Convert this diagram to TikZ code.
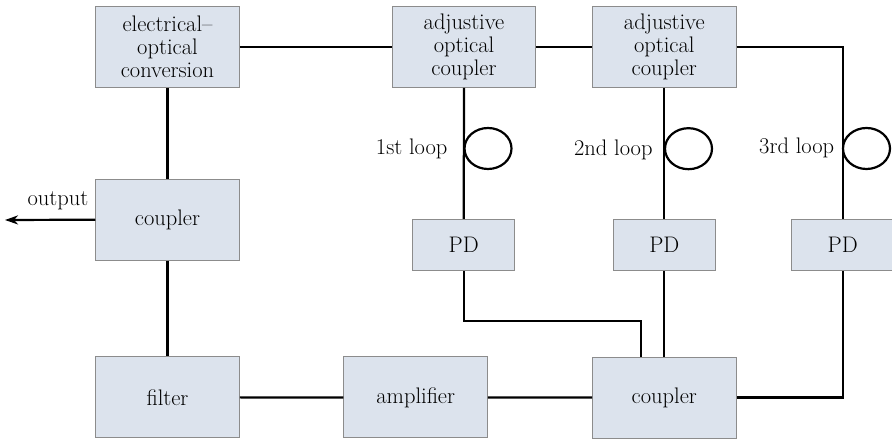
\documentclass[tikz,border=0pt]{standalone}
\usepackage{fontspec}
\usetikzlibrary{arrows.meta,shapes.geometric}
\definecolor{boxfill}{RGB}{220,227,237}
\definecolor{boxline}{RGB}{140,140,140}
\begin{document}
\begin{tikzpicture}[x=1pt,y=-1pt,
  font=\fontsize{22.5}{23.3}\selectfont,
  blk/.style={draw=boxline,fill=boxfill,line width=1pt,inner sep=0pt,align=center,minimum width=143.5pt,minimum height=81pt},
  pdbox/.style={draw=boxline,fill=boxfill,line width=1pt,inner sep=0pt,minimum width=102pt,minimum height=51.4pt},
  conn/.style={line width=2.2pt,draw=black},
  loopring/.style={ellipse,draw=black,line width=2.2pt,minimum width=47pt,minimum height=41pt,inner sep=0pt},
  lbl/.style={inner sep=0pt}]
\useasboundingbox (0,0) rectangle (892,443);
% blocks
\node[blk] (eo) at (167.5,46.8) {electrical–\\optical\\conversion};
\node[blk] (ac1) at (464,46.8) {adjustive\\optical\\coupler};
\node[blk] (ac2) at (664.3,46.8) {adjustive\\optical\\coupler};
\node[blk,minimum height=80.7pt] (cl) at (167.5,219.7) {coupler};
\node[pdbox] (pd1) at (463.7,245) {PD};
\node[pdbox] (pd2) at (664.3,245) {PD};
\node[pdbox] (pd3) at (842.7,245) {PD};
\node[blk] (fil) at (167.5,397.4) {filter};
\node[blk] (amp) at (415.7,397.5) {amplifier};
\node[blk] (cb) at (664.3,397.6) {coupler};
% loops
\node[loopring] (l1) at (488,148.5) {};
\node[loopring] (l2) at (688.5,148.7) {};
\node[loopring] (l3) at (866.5,148.5) {};
\node[lbl] (t1) at (411.7,149) {1st loop};
\node[lbl] (t2) at (613.3,149.5) {2nd loop};
\node[lbl] (t3) at (796.7,148) {3rd loop};
% output
\coordinate (out) at (5,220);
\node[lbl] (to) at (58,201) {output};
% connectors
\draw[conn] (eo.east) -- (ac1.west);
\draw[conn] (ac1.east) -- (ac2.west);
\draw[conn] (ac2.east) -| (pd3.north);
\draw[conn] (eo.south) -- (cl.north);
\draw[conn] (cl.south) -- (fil.north);
\draw[conn,-{Stealth[length=13pt,width=9pt,inset=4pt]}] (cl.west) -- (out);
\draw[conn] (fil.east) -- (amp.west);
\draw[conn] (amp.east) -- (cb.west);
\draw[conn] (ac1.south) -- (pd1.north);
\draw[conn] (ac2.south) -- (pd2.north);
\coordinate (k1) at (640.7,321);
\draw[conn] (pd1.south) |- (k1) -- (k1 |- cb.north);
\draw[conn] (pd2.south) -- (cb.north);
\draw[conn] (pd3.south) |- (cb.east);
\end{tikzpicture}
\end{document}
